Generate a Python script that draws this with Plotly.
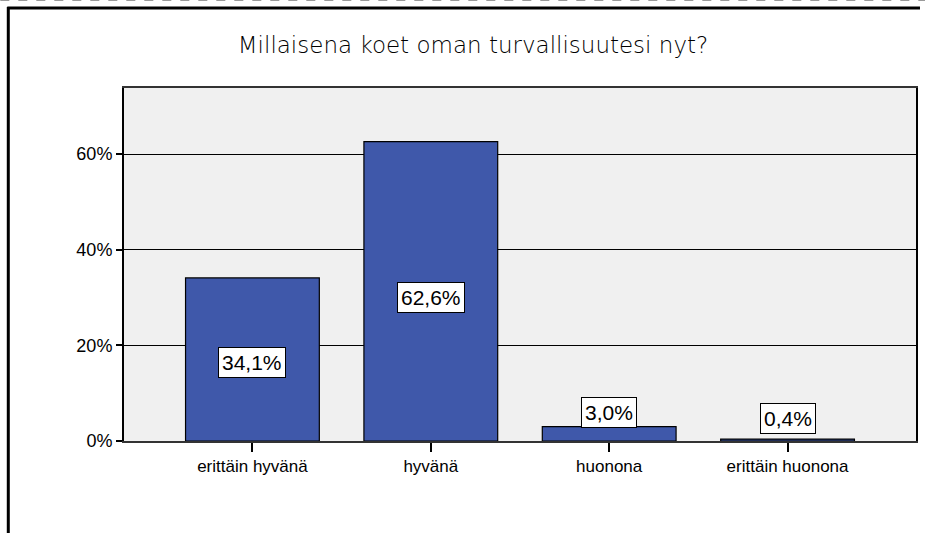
import plotly.graph_objects as go

categories = ['erittäin hyvänä', 'hyvänä', 'huonona', 'erittäin huonona']
percent = [34.1, 62.6, 3.0, 0.4]
tick_vals = [0, 20, 40, 60]
tick_text = ['0%', '20%', '40%', '60%']

W, H = 927, 533
L, R, T, B = 124, 9, 88, 92

fig = go.Figure(go.Bar(
    x=categories,
    y=percent,
    marker_color='#3F58AA',
    marker_line_color='black',
    marker_line_width=1.2,
    width=0.75,
    hoverinfo='skip'
))

# value labels in white boxes: inside tall bars, above the short ones
label_shift = [-3, -6, 14, 21]
for cat, v, s in zip(categories, percent, label_shift):
    ypos = v / 2 if v > 10 else v
    fig.add_annotation(
        x=cat, y=ypos, yshift=s,
        text=f'{v:.1f}%'.replace('.', ','),
        showarrow=False,
        bgcolor='white', bordercolor='black', borderwidth=1, borderpad=3,
        font=dict(family='Liberation Sans, Arial', size=21, color='black')
    )

px = lambda x: (x - L) / (W - L - R)
py = lambda y: (H - B - y) / (H - T - B)

# outer frame
fig.add_shape(type='line', xref='paper', yref='paper',
              x0=px(8), x1=px(8), y0=py(7), y1=py(540),
              line=dict(color='black', width=3))
fig.add_shape(type='line', xref='paper', yref='paper',
              x0=px(7), x1=px(922), y0=py(8), y1=py(8),
              line=dict(color='black', width=3))
fig.add_shape(type='line', xref='paper', yref='paper',
              x0=px(0), x1=px(927), y0=py(0), y1=py(0),
              line=dict(color='#999999', width=2, dash='dash'))

fig.update_layout(
    width=W, height=H,
    margin=dict(l=L, r=R, t=T, b=B),
    paper_bgcolor='white',
    plot_bgcolor='#F0F0F0',
    showlegend=False,
    title=dict(text='Millaisena koet oman turvallisuutesi nyt?',
               x=473 / W, xanchor='center', y=1 - 45 / H, yanchor='middle',
               font=dict(family='DejaVu Sans', size=23, weight=200, color='black')),
    font=dict(family='Liberation Sans, Arial', size=17, color='black'),
)
fig.update_xaxes(
    range=[-0.72, 3.72],
    showline=True, linecolor='#333333', linewidth=1.5, mirror=True,
    ticks='outside', ticklen=9, tickwidth=2, tickcolor='black',
    showgrid=False,
    tickfont=dict(size=17)
)
fig.update_yaxes(
    range=[0, 73.8],
    tickvals=tick_vals, ticktext=tick_text,
    showline=True, linecolor='black', linewidth=2, mirror=True,
    ticks='outside', ticklen=6, tickwidth=2, tickcolor='black',
    showgrid=True, gridcolor='black', gridwidth=1.2,
    zeroline=False,
    tickfont=dict(size=18)
)

fig.write_html('out.html', config={'displayModeBar': False},
               post_script="document.body.style.margin='0';document.body.style.overflow='hidden';")
